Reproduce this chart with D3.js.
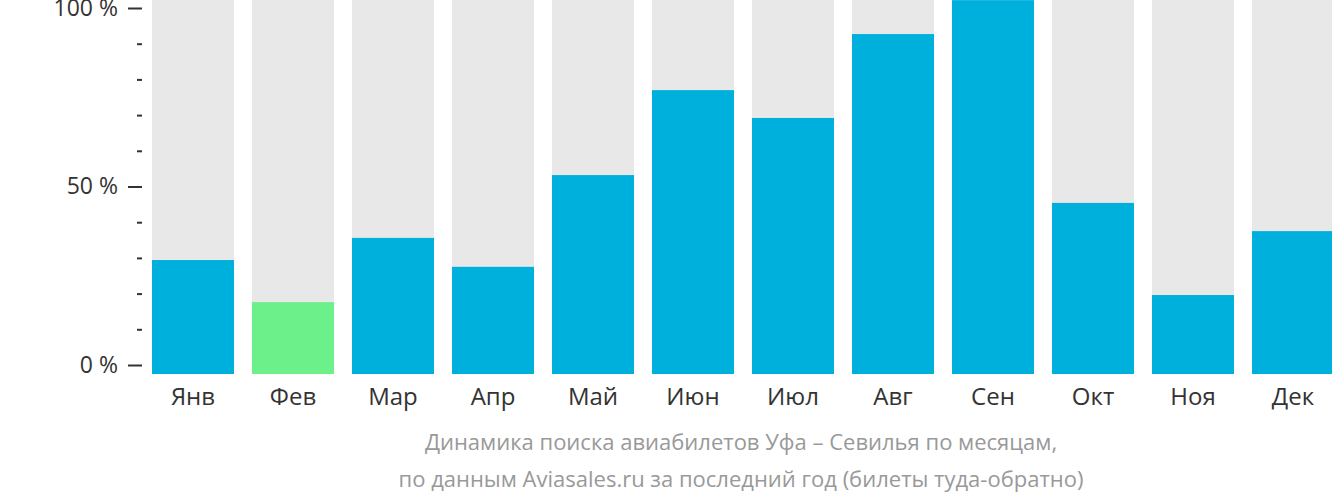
<!DOCTYPE html><html><head><meta charset="utf-8">
<script src="https://cdn.jsdelivr.net/npm/d3@7"></script>
<style>body{margin:0;background:#fff}svg{font-family:"Open Sans",sans-serif}</style></head><body>
<svg id="c" width="1332" height="502"></svg>
<script>
const months=["Янв","Фев","Мар","Апр","Май","Июн","Июл","Авг","Сен","Окт","Ноя","Дек"];
const values=[29.4,17.6,35.6,27.5,53.2,77,69.2,92.7,102.2,45.4,19.6,37.5];
const highlight="Фев";
const tickLabels=["0 %","50 %","100 %"];
const svg=d3.select("#c");
const x=d3.scaleBand().domain(months).range([143,1343]).paddingInner(0.18).paddingOuter(0.09);
const y=d3.scaleLinear().domain([0,100]).range([365,8]);
const base=374;
svg.selectAll(".bg").data(months).join("rect").attr("x",d=>x(d)).attr("width",x.bandwidth()).attr("y",0).attr("height",base).attr("fill","#e8e8e8");
svg.selectAll(".b").data(values).join("rect").attr("x",(d,i)=>x(months[i])).attr("width",x.bandwidth())
 .attr("y",d=>Math.max(0,y(d))).attr("height",d=>base-Math.max(0,y(d))).attr("fill",(d,i)=>months[i]===highlight?"#6cf08a":"#00b0dc");
const ax=svg.append("g").attr("transform","translate(142,0)");
ax.call(d3.axisLeft(y).tickValues([0,50,100]).tickSize(14).tickPadding(10).tickFormat((d,i)=>tickLabels[i]));
ax.select(".domain").remove();
ax.selectAll("text").attr("font-size",23).attr("fill","#333").attr("font-family","Open Sans");
ax.selectAll("line").attr("stroke","#333").attr("stroke-width",2);
const mn=svg.append("g").attr("transform","translate(142,0)");
mn.call(d3.axisLeft(y).tickValues([10,20,30,40,60,70,80,90]).tickSize(5).tickFormat(""));
mn.select(".domain").remove();mn.selectAll("line").attr("stroke","#333").attr("stroke-width",2);
svg.selectAll(".ml").data(months).join("text").attr("x",d=>x(d)+x.bandwidth()/2).attr("y",405).attr("text-anchor","middle")
 .attr("font-size",24).attr("fill","#333").text(d=>d);
svg.append("text").attr("x",741).attr("y",450).attr("text-anchor","middle").attr("font-size",22).attr("fill","#999").text("Динамика поиска авиабилетов Уфа – Севилья по месяцам,");
svg.append("text").attr("x",741).attr("y",487).attr("text-anchor","middle").attr("font-size",22).attr("fill","#999").text("по данным Aviasales.ru за последний год (билеты туда-обратно)");
</script></body></html>
